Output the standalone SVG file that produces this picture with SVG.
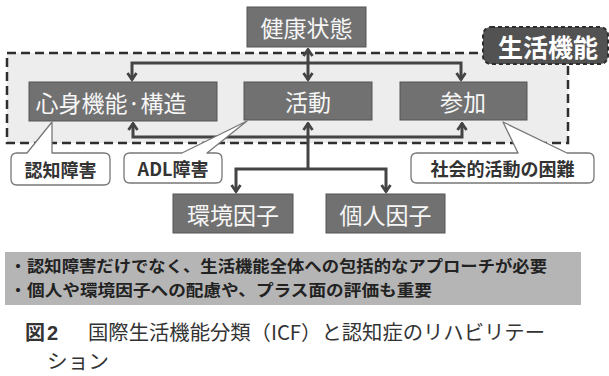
<svg xmlns="http://www.w3.org/2000/svg" width="609" height="376" viewBox="0 0 609 376">
<style>
.node rect{fill:#717171;stroke:#555;stroke-width:1}
.node text{fill:#f6f6f6;font-family:"Noto Sans CJK JP","Noto Sans",sans-serif;font-size:23px;text-anchor:middle;dominant-baseline:central}
.conn{fill:none;stroke:#444;stroke-width:3;stroke-linejoin:miter}
.callout path{fill:#fff;stroke:#777;stroke-width:1.3;stroke-linejoin:round}
.callout text{fill:#333;font-family:"Noto Sans CJK JP","Noto Sans",sans-serif;font-size:18px;font-weight:bold;text-anchor:middle;dominant-baseline:central}
.band{fill:#222;font-family:"Noto Sans CJK JP","Noto Sans",sans-serif;font-size:16px;font-weight:bold}
.cap{fill:#333;font-family:"Noto Sans CJK JP","Noto Sans",sans-serif;font-size:20px}
</style>
<defs>
<marker id="ah" viewBox="0 0 10 12" refX="8.5" refY="6" markerWidth="10" markerHeight="12" markerUnits="userSpaceOnUse" orient="auto-start-reverse">
<path d="M1.5,1.5 L8,6 L1.5,10.5" fill="none" stroke="#444" stroke-width="2.8"/>
</marker>
</defs>
<rect width="609" height="376" fill="#fff"/>
<g id="region">
<rect x="7" y="53" width="561" height="90" fill="#ededed" stroke="#2e2e2e" stroke-width="2.5" stroke-dasharray="9,5"/>
</g>
<g id="connectors">
<path class="conn" d="M308,49 L308,80" marker-start="url(#ah)" marker-end="url(#ah)"/>
<path class="conn" d="M132,80 L132,63 L461,63 L461,80" marker-start="url(#ah)" marker-end="url(#ah)"/>
<path class="conn" d="M133,123 L133,137 L462,137 L462,123" marker-start="url(#ah)" marker-end="url(#ah)"/>
<path class="conn" d="M308,123 L308,169" marker-start="url(#ah)"/>
<path class="conn" d="M236,192 L236,169 L386,169 L386,192" marker-start="url(#ah)" marker-end="url(#ah)"/>
</g>
<g id="label-seikatsu">
<rect x="483" y="27" width="125" height="37" rx="8" fill="#525252" stroke="#2e2e2e" stroke-width="2" stroke-dasharray="4,3"/>
<text x="548" y="46" fill="#fff" font-family="'Noto Sans CJK JP',sans-serif" font-size="25" font-weight="bold" text-anchor="middle" dominant-baseline="central">生活機能</text>
</g>
<g id="kenko" class="node"><rect x="247" y="7" width="119" height="40"/><text x="306.5" y="27">健康状態</text></g>
<g id="shinshin" class="node"><rect x="29" y="82" width="188" height="39"/><text x="111" y="101.5">心身機能·構造</text></g>
<g id="katsudo" class="node"><rect x="244" y="82" width="128" height="38"/><text x="308" y="101">活動</text></g>
<g id="sanka" class="node"><rect x="400" y="82" width="127" height="38"/><text x="463" y="101">参加</text></g>
<g id="kankyo" class="node"><rect x="173" y="194" width="120" height="39"/><text x="233" y="213.5">環境因子</text></g>
<g id="kojin" class="node"><rect x="326" y="194" width="119" height="39"/><text x="385.5" y="213.5">個人因子</text></g>
<g id="callout-ninchi" class="callout">
<path d="M17,153 L27,153 L52,122 L52,153 L104,153 Q110,153 110,159 L110,179 Q110,185 104,185 L17,185 Q11,185 11,179 L11,159 Q11,153 17,153 Z"/>
<text x="60.5" y="169">認知障害</text>
</g>
<g id="callout-adl" class="callout">
<path d="M130,153 L182,153 L247,121 L207,153 L216,153 Q222,153 222,159 L222,177 Q222,183 216,183 L130,183 Q124,183 124,177 L124,159 Q124,153 130,153 Z"/>
<text x="173" y="168">ADL障害</text>
</g>
<g id="callout-shakai" class="callout">
<path d="M417,153 L518,153 L503,122 L567,153 L588,153 Q594,153 594,159 L594,177 Q594,183 588,183 L417,183 Q411,183 411,177 L411,159 Q411,153 417,153 Z"/>
<text x="502.5" y="168">社会的活動の困難</text>
</g>
<g id="summary">
<rect x="5" y="252" width="576" height="53" fill="#b5b5b5"/>
<text class="band" y="272"><tspan x="10">・</tspan><tspan x="27" textLength="520" lengthAdjust="spacingAndGlyphs">認知障害だけでなく、生活機能全体への包括的なアプローチが必要</tspan></text>
<text class="band" y="295.5"><tspan x="10">・</tspan><tspan x="27" textLength="405" lengthAdjust="spacingAndGlyphs">個人や環境因子への配慮や、プラス面の評価も重要</tspan></text>
</g>
<g id="caption">
<text x="25" y="340" fill="#333" font-family="'Liberation Sans','Noto Sans CJK JP',sans-serif" font-size="20" font-weight="bold">図<tspan x="47">2</tspan></text>
<text class="cap" x="88" y="340" textLength="457" lengthAdjust="spacingAndGlyphs">国際生活機能分類（ICF）と認知症のリハビリテー</text>
<text class="cap" x="47" y="369" textLength="62" lengthAdjust="spacingAndGlyphs">ション</text>
</g>
</svg>
